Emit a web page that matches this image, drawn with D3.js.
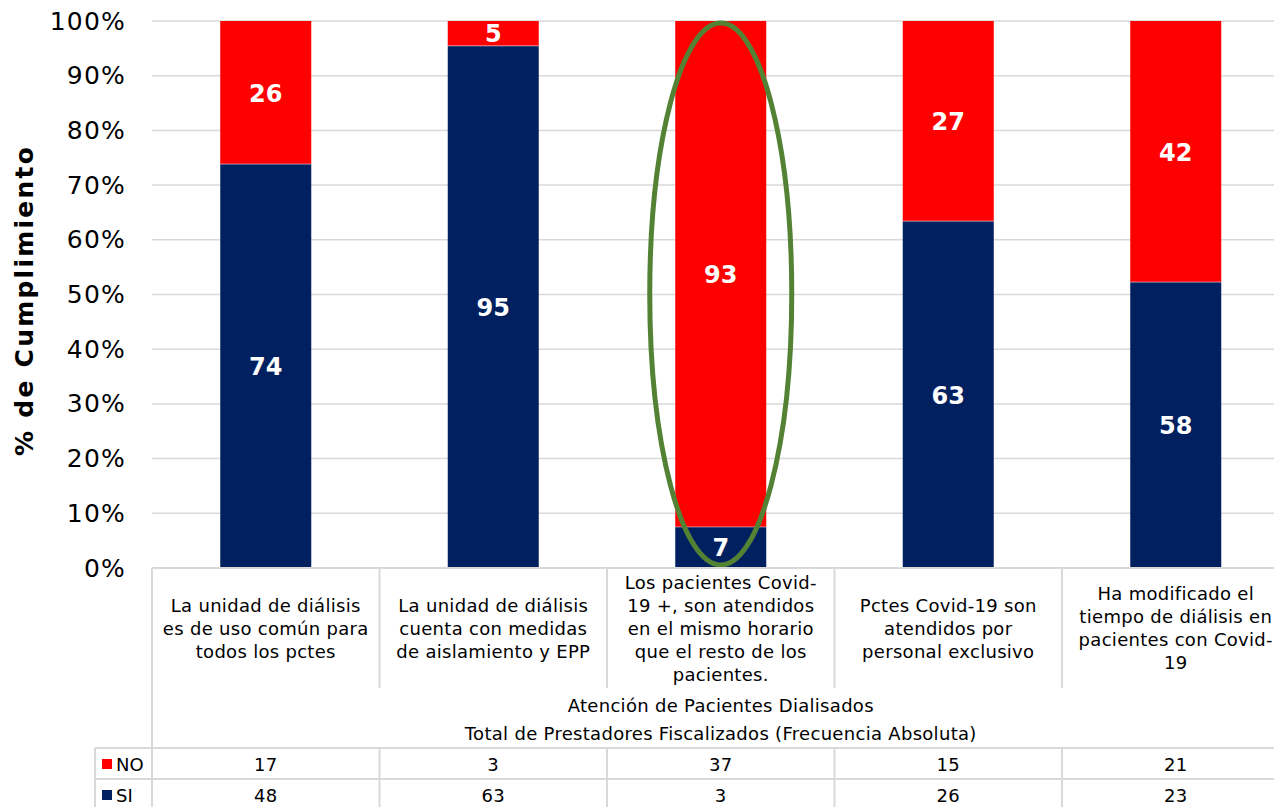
<!DOCTYPE html>
<html>
<head>
<meta charset="utf-8">
<script src="https://cdn.jsdelivr.net/npm/d3@7"></script>
<style>
  body { margin: 0; background: #fff; }
  svg { display: block; font-family: Verdana, "DejaVu Sans", sans-serif; }
</style>
</head>
<body>
<svg id="chart"></svg>
<script>
// categorias (eje x), con saltos de linea como en el original
const categories = [
  'La unidad de diálisis\nes de uso común para\ntodos los pctes',
  'La unidad de diálisis\ncuenta con medidas\nde aislamiento y EPP',
  'Los pacientes Covid-\n19 +, son atendidos\nen el mismo horario\nque el resto de los\npacientes.',
  'Pctes Covid-19 son\natendidos por\npersonal exclusivo',
  'Ha modificado el\ntiempo de diálisis en\npacientes con Covid-\n19'
]
// frecuencia absoluta (tabla)
const noCounts = [17, 3, 37, 15, 21]
const siCounts = [48, 63, 3, 26, 23]
// etiquetas que muestra cada barra
const noLabels = [26, 5, 93, 27, 42]
const siLabels = [74, 95, 7, 63, 58]
const yTicks = [0, 0.1, 0.2, 0.3, 0.4, 0.5, 0.6, 0.7, 0.8, 0.9, 1]
const highlighted = 2   // la categoria encerrada en verde

const width = 1274, height = 807
const RED = '#ff0000', NAVY = '#002060', GRID = '#d9d9d9'
const FS = 18, LS = 0.3   // texto de la tabla

const svg = d3.select('#chart').attr('width', width).attr('height', height)

const x = d3.scaleBand().domain(d3.range(categories.length)).range([152, 1289.5])
const y = d3.scaleLinear().domain([0, 1]).range([568, 21])
const barW = x.bandwidth() * 0.4

// gridlines
svg.append('g').selectAll('line').data(yTicks).join('line')
  .attr('x1', 152).attr('x2', width)
  .attr('y1', d => y(d)).attr('y2', d => y(d))
  .attr('stroke', GRID).attr('stroke-width', 1.5)

// eje y
const yAxis = svg.append('g').attr('transform', 'translate(126,0)')
  .call(d3.axisLeft(y).tickValues(yTicks).tickFormat(d3.format('.0%')).tickSize(0).tickPadding(0))
yAxis.select('.domain').remove()
yAxis.selectAll('text').attr('font-size', 25).attr('fill', '#000')
  .attr('letter-spacing', 1.2)
  .attr('font-family', 'Verdana, "DejaVu Sans", sans-serif')

svg.append('text')
  .attr('transform', `translate(24,${(y(0) + y(1)) / 2 + 7}) rotate(-90)`)
  .attr('text-anchor', 'middle').attr('dominant-baseline', 'central')
  .attr('font-size', 25).attr('font-weight', 'bold')
  .attr('textLength', 309).attr('lengthAdjust', 'spacing')
  .text('% de Cumplimiento')

// barras apiladas al 100%
const data = categories.map((c, i) => {
  const tot = noCounts[i] + siCounts[i]
  return { i, si: siCounts[i] / tot, no: noCounts[i] / tot, siLab: siLabels[i], noLab: noLabels[i] }
})

const bars = svg.append('g').selectAll('g').data(data).join('g')
bars.append('rect')
  .attr('x', d => x(d.i) + (x.bandwidth() - barW) / 2).attr('width', barW)
  .attr('y', d => y(d.si)).attr('height', d => y(0) - y(d.si))
  .attr('fill', NAVY)
bars.append('rect')
  .attr('x', d => x(d.i) + (x.bandwidth() - barW) / 2).attr('width', barW)
  .attr('y', d => y(1)).attr('height', d => y(d.si) - y(1))
  .attr('fill', RED)
bars.append('line')
  .attr('x1', d => x(d.i) + (x.bandwidth() - barW) / 2)
  .attr('x2', d => x(d.i) + (x.bandwidth() + barW) / 2)
  .attr('y1', d => y(d.si)).attr('y2', d => y(d.si))
  .attr('stroke', '#ffffff').attr('stroke-opacity', 0.5).attr('stroke-width', 1)

bars.append('text')
  .attr('x', d => x(d.i) + x.bandwidth() / 2)
  .attr('y', d => y(d.si / 2) + 1)
  .text(d => d.siLab)
bars.append('text')
  .attr('x', d => x(d.i) + x.bandwidth() / 2)
  .attr('y', d => y(d.si + d.no / 2) + 1)
  .text(d => d.noLab)
bars.selectAll('text')
  .attr('text-anchor', 'middle').attr('dominant-baseline', 'central')
  .attr('fill', '#fff').attr('font-weight', 'bold').attr('font-size', 24)

// ovalo verde
svg.append('ellipse')
  .attr('cx', x(highlighted) + x.bandwidth() / 2).attr('cy', 294)
  .attr('rx', 71).attr('ry', 271)
  .attr('fill', 'none').attr('stroke', '#548235').attr('stroke-width', 5)

// tabla de datos
const tbl = svg.append('g').attr('stroke', GRID).attr('stroke-width', 2)
tbl.append('line').attr('x1', 152).attr('x2', width).attr('y1', 568).attr('y2', 568)
tbl.append('line').attr('x1', 152).attr('x2', 152).attr('y1', 568).attr('y2', height)
tbl.selectAll('.sep').data(d3.range(1, categories.length)).join('line')
  .attr('x1', d => x(d)).attr('x2', d => x(d)).attr('y1', 568).attr('y2', 688)
tbl.selectAll('.rowl').data([748, 779, 810]).join('line')
  .attr('x1', 95).attr('x2', width).attr('y1', d => d).attr('y2', d => d)
tbl.selectAll('.colv').data([95].concat(d3.range(1, categories.length).map(d => x(d)))).join('line')
  .attr('x1', d => d).attr('x2', d => d).attr('y1', 748).attr('y2', height)

// textos de categoria
const lineH = 23
svg.append('g').selectAll('text').data(categories).join('text')
  .attr('text-anchor', 'middle').attr('font-size', FS).attr('letter-spacing', LS).attr('fill', '#000')
  .each(function (c, i) {
    const lines = c.split('\n')
    const y0 = 628 - (lines.length - 1) * lineH / 2
    d3.select(this).selectAll('tspan').data(lines).join('tspan')
      .attr('x', x(i) + x.bandwidth() / 2)
      .attr('y', (l, k) => y0 + k * lineH)
      .attr('dominant-baseline', 'central')
      .text(l => l)
  })

const midX = (x.range()[0] + x.range()[1]) / 2
svg.append('text').attr('x', midX).attr('y', 705)
  .attr('text-anchor', 'middle').attr('dominant-baseline', 'central')
  .attr('font-size', FS).attr('letter-spacing', LS)
  .text('Atención de Pacientes Dialisados')
svg.append('text').attr('x', midX).attr('y', 733)
  .attr('text-anchor', 'middle').attr('dominant-baseline', 'central')
  .attr('font-size', FS).attr('letter-spacing', LS)
  .text('Total de Prestadores Fiscalizados (Frecuencia Absoluta)')

// filas NO / SI
const rows = [
  { name: 'NO', color: RED, vals: noCounts, yc: 764 },
  { name: 'SI', color: NAVY, vals: siCounts, yc: 795 }
]
rows.forEach(r => {
  svg.append('rect').attr('x', 102).attr('y', r.yc - 5).attr('width', 10).attr('height', 10).attr('fill', r.color)
  svg.append('text').attr('x', 116).attr('y', r.yc).attr('dominant-baseline', 'central')
    .attr('font-size', FS).text(r.name)
  svg.append('g').selectAll('text').data(r.vals).join('text')
    .attr('x', (v, i) => x(i) + x.bandwidth() / 2).attr('y', r.yc)
    .attr('text-anchor', 'middle').attr('dominant-baseline', 'central')
    .attr('font-size', FS).attr('letter-spacing', LS)
    .text(v => v)
})
</script>
</body>
</html>
